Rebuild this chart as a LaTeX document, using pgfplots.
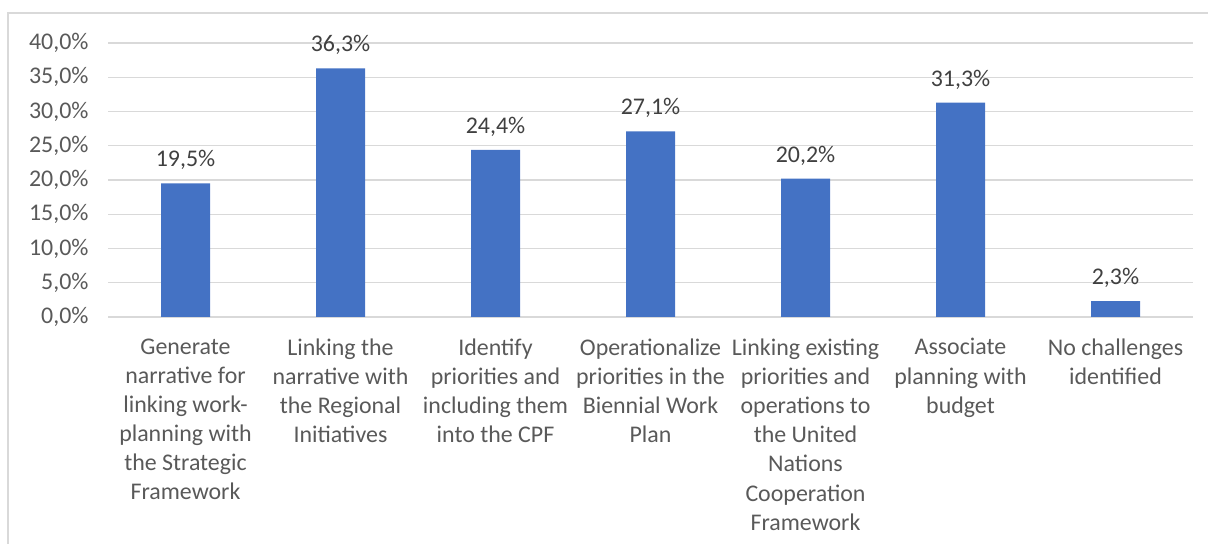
\documentclass[border=0pt]{standalone}
\usepackage{pgfplots}
\pgfplotsset{compat=1.18}
\usepackage{fontspec}
\setmainfont{Carlito}
\definecolor{barblue}{HTML}{4472C4}
\definecolor{gridgray}{HTML}{D9D9D9}
\definecolor{ticktext}{HTML}{595959}
\definecolor{labeltext}{HTML}{404040}
\begin{document}
\begin{tikzpicture}[x=1bp,y=1bp]
\draw[gridgray,line width=1.2bp] (8,-20) -- (8,531) -- (1230,531);
\node[anchor=base west,inner sep=0,font=\fontsize{28}{30}\selectfont\bfseries] at (523.5,549.5) {p};
\begin{axis}[
  at={(185.5bp,227bp)}, anchor=origin,
  scale only axis, width=1085bp, height=274bp,
  xmin=-0.5, xmax=6.5, ymin=0, ymax=40,
  ybar, bar width=49bp,
  axis line style={draw=none},
  axis x line*=bottom,
  x axis line style={draw=gridgray, line width=1.2bp},
  ymajorgrids, grid style={gridgray, line width=1.2bp},
  major tick length=0pt,
  ytick={0,5,...,40},
  yticklabels={{0,0\%},{5,0\%},{10,0\%},{15,0\%},{20,0\%},{25,0\%},{30,0\%},{35,0\%},{40,0\%}},
  yticklabel style={font=\fontsize{24}{28}\selectfont, text=ticktext, xshift=-16bp},
  xtick={0,...,6},
  xticklabels={
    {Generate\\narrative for\\linking work-\\planning with\\the Strategic\\Framework},
    {Linking the\\narrative with\\the Regional\\Initiatives},
    {Identify\\priorities and\\including them\\into the CPF},
    {Operationalize\\priorities in the\\Biennial Work\\Plan},
    {Linking existing\\priorities and\\operations to\\the United\\Nations\\Cooperation\\Framework},
    {Associate\\planning with\\budget},
    {No challenges\\identified}},
  xticklabel style={font=\fontsize{24}{29.3}\selectfont, text=ticktext, align=center, anchor=north, yshift=-18bp},
  nodes near coords={\pgfmathprintnumber[fixed,fixed zerofill,precision=1,use comma,assume math mode=true]{\pgfplotspointmeta}\%},
  nodes near coords style={font=\fontsize{24}{28}\selectfont, text=labeltext, anchor=south, yshift=10bp},
  clip=false,
]
\addplot[fill=barblue, draw=none, bar shift=0pt] coordinates {
  (0,19.5) (1,36.3) (2,24.4) (3,27.1) (4,20.2) (5,31.3) (6,2.3)
};
\end{axis}
\pgfresetboundingbox
\useasboundingbox (0,0) rectangle (1208,544);
\end{tikzpicture}
\end{document}
